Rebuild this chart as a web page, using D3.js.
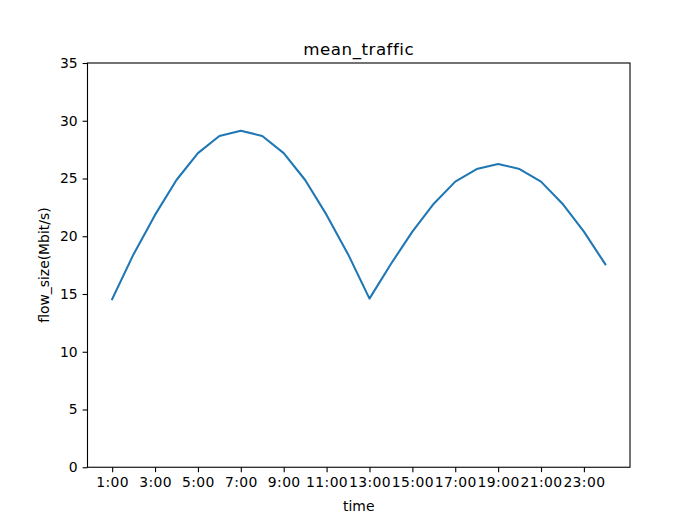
<!DOCTYPE html>
<html>
<head>
<meta charset="utf-8">
<script src="https://cdn.jsdelivr.net/npm/d3@7"></script>
<style>
  body { margin: 0; background: #fff }
  text { font-family: 'DejaVu Sans', sans-serif; fill: #000 }
</style>
</head>
<body>
<svg id="chart" width="700" height="525"></svg>
<script>
const hours = ['1:00', '2:00', '3:00', '4:00', '5:00', '6:00', '7:00', '8:00', '9:00', '10:00', '11:00', '12:00',
  '13:00', '14:00', '15:00', '16:00', '17:00', '18:00', '19:00', '20:00', '21:00', '22:00', '23:00', '24:00']
const meanTraffic = [14.55, 18.45, 21.85, 24.87, 27.2, 28.68, 29.14, 28.68, 27.2, 24.87, 21.85, 18.45,
  14.6, 17.6, 20.4, 22.82, 24.73, 25.82, 26.26, 25.82, 24.73, 22.82, 20.4, 17.57]
const tickLabels = ['1:00', '3:00', '5:00', '7:00', '9:00', '11:00', '13:00', '15:00', '17:00', '19:00', '21:00', '23:00']
const yTicks = [0, 5, 10, 15, 20, 25, 30, 35]

const margin = { left: 87.5, right: 630, top: 63, bottom: 467.25 }
const svg = d3.select('#chart')

// matplotlib style 5% padding on x
const n = meanTraffic.length - 1
const x = d3.scaleLinear()
  .domain([-0.05 * n, n * 1.05])
  .range([margin.left, margin.right])
const y = d3.scaleLinear()
  .domain([0, 35])
  .range([margin.bottom, margin.top])

const xAxis = d3.axisBottom(x)
  .tickValues(tickLabels.map(l => hours.indexOf(l)))
  .tickFormat(d => hours[d])
  .tickSize(4.9)
  .tickPadding(4.9)
const yAxis = d3.axisLeft(y)
  .tickValues(yTicks)
  .tickSize(4.9)
  .tickPadding(4.9)

const gx = svg.append('g')
  .attr('transform', `translate(0,${margin.bottom})`)
  .call(xAxis)
const gy = svg.append('g')
  .attr('transform', `translate(${margin.left},0)`)
  .call(yAxis)

for (const g of [gx, gy]) {
  g.select('.domain').remove()
  g.selectAll('.tick line').attr('stroke', '#000').attr('stroke-width', 1.1)
  g.selectAll('.tick text')
    .style('font-family', 'DejaVu Sans, sans-serif')
    .style('font-size', '13.9px')
    .attr('fill', '#000')
}
// agg renders the labels a bit wider, so the middle ones run together
gx.selectAll('.tick text').style('letter-spacing', '0.4px')

const line = d3.line()
  .x((d, i) => x(i))
  .y(d => y(d))

svg.append('path')
  .datum(meanTraffic)
  .attr('fill', 'none')
  .attr('stroke', '#1f77b4')
  .attr('stroke-width', 2.08)
  .attr('stroke-linejoin', 'round')
  .attr('stroke-linecap', 'square')
  .attr('d', line)

// frame
svg.append('rect')
  .attr('x', margin.left)
  .attr('y', margin.top)
  .attr('width', margin.right - margin.left)
  .attr('height', margin.bottom - margin.top)
  .attr('fill', 'none')
  .attr('stroke', '#000')
  .attr('stroke-width', 1.1)

svg.append('text')
  .attr('x', (margin.left + margin.right) / 2)
  .attr('y', 54.5)
  .attr('text-anchor', 'middle')
  .style('font-size', '16.7px')
  .style('letter-spacing', '0.5px')
  .text('mean_traffic')

svg.append('text')
  .attr('x', (margin.left + margin.right) / 2)
  .attr('y', 511)
  .attr('text-anchor', 'middle')
  .style('font-size', '13.9px')
  .text('time')

svg.append('text')
  .attr('transform', `translate(49,${(margin.top + margin.bottom) / 2}) rotate(-90)`)
  .attr('text-anchor', 'middle')
  .style('font-size', '13.9px')
  .text('flow_size(Mbit/s)')
</script>
</body>
</html>
